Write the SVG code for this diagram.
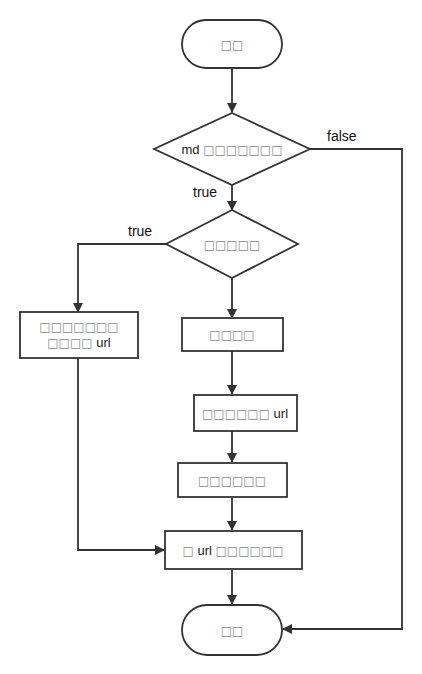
<svg xmlns="http://www.w3.org/2000/svg" width="422" height="674" viewBox="0 0 422 674">
<defs>
<marker id="ah" viewBox="0 0 10 10" refX="9" refY="5" markerWidth="10" markerHeight="10" markerUnits="userSpaceOnUse" orient="auto">
<path d="M0,0 L10,5 L0,10 z" fill="#333"/>
</marker>
<style>
.s{fill:#fff;stroke:#333;stroke-width:1.8}
.c{fill:none;stroke:#333;stroke-width:1.8}
.t{font-family:"Liberation Sans","DejaVu Sans",sans-serif;font-size:13px;fill:#222;text-anchor:middle}
.g{font-family:"DejaVu Sans",sans-serif;font-size:12px;fill:#888}
.l{font-family:"Liberation Sans","DejaVu Sans",sans-serif;font-size:14px;fill:#111}
</style>
</defs>
<rect width="422" height="674" fill="#fff"/>
<g id="connectors">
<path class="c" d="M232,68 V112" marker-end="url(#ah)"/>
<path class="c" d="M232,185 V210" marker-end="url(#ah)"/>
<path class="c" d="M310,149 H402 V629 H283" marker-end="url(#ah)"/>
<path class="c" d="M166,244 H78 V312" marker-end="url(#ah)"/>
<path class="c" d="M232,278 V318" marker-end="url(#ah)"/>
<path class="c" d="M232,351 V394" marker-end="url(#ah)"/>
<path class="c" d="M232,431 V462" marker-end="url(#ah)"/>
<path class="c" d="M232,497 V530" marker-end="url(#ah)"/>
<path class="c" d="M78,358 V550 H164" marker-end="url(#ah)"/>
<path class="c" d="M232,569 V604" marker-end="url(#ah)"/>
<text class="l" x="327" y="141">false</text>
<text class="l" x="193" y="197">true</text>
<text class="l" x="128" y="236">true</text>
</g>
<g id="start">
<rect class="s" x="182" y="20" width="100" height="48" rx="24"/>
<text class="t g" x="232" y="49">□□</text>
</g>
<g id="cond1">
<polygon class="s" points="232,113 310,149 232,185 154,149"/>
<text class="t" x="232" y="154">md <tspan class="g">□□□□□□□</tspan></text>
</g>
<g id="cond2">
<polygon class="s" points="232,210 298,244 232,278 166,244"/>
<text class="t g" x="232" y="249">□□□□□</text>
</g>
<g id="left">
<rect class="s" x="20" y="312" width="118" height="46"/>
<text class="t g" x="79" y="331">□□□□□□□</text>
<text class="t" x="79" y="347"><tspan class="g">□□□□</tspan> url</text>
</g>
<g id="b1">
<rect class="s" x="182" y="318" width="101" height="33"/>
<text class="t g" x="232" y="339">□□□□</text>
</g>
<g id="b2">
<rect class="s" x="194" y="395" width="103" height="36"/>
<text class="t" x="245" y="418"><tspan class="g">□□□□□□</tspan> url</text>
</g>
<g id="b3">
<rect class="s" x="178" y="463" width="109" height="34"/>
<text class="t g" x="232" y="485">□□□□□□</text>
</g>
<g id="b4">
<rect class="s" x="165" y="531" width="137" height="38"/>
<text class="t" x="233" y="555"><tspan class="g">□</tspan> url <tspan class="g">□□□□□□</tspan></text>
</g>
<g id="end">
<rect class="s" x="182" y="605" width="100" height="50" rx="25"/>
<text class="t g" x="232" y="635">□□</text>
</g>
</svg>
